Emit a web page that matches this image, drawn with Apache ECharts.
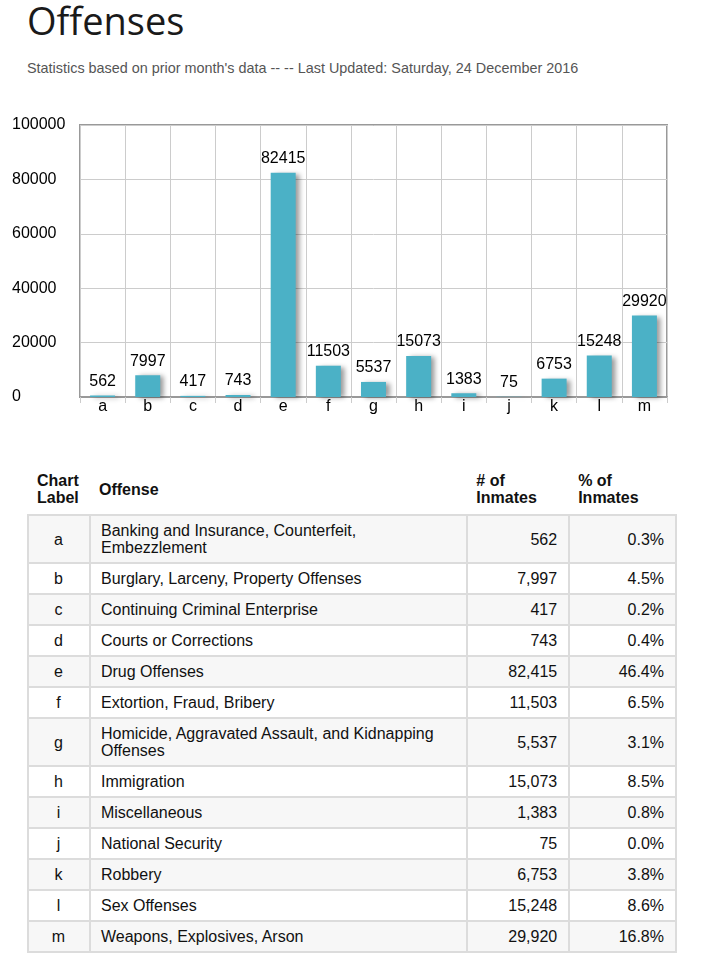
<!DOCTYPE html>
<html>
<head>
<meta charset="utf-8">
<script src="https://cdn.jsdelivr.net/npm/echarts@6/dist/echarts.min.js"></script>
<style>
  html, body { margin: 0; padding: 0; background: #fff; }
  body { width: 701px; height: 964px; position: relative; overflow: hidden; font-family: "Liberation Sans", Arial, sans-serif; }
  #title { position: absolute; left: 27px; top: -6px; font-family: "Open Sans", sans-serif; font-size: 38px; color: #1a1a1a; font-weight: 400; line-height: 52px; margin: 0; }
  #subtitle { position: absolute; left: 27px; top: 59px; font-size: 14.4px; color: #555; line-height: 18px; }
  #chart { position: absolute; left: 0; top: 100px; width: 701px; height: 330px; }
  #tbl { position: absolute; left: 27px; top: 469px; width: 650px; border-collapse: collapse; font-size: 16px; color: #111; }
  #tbl th { font-weight: bold; text-align: left; vertical-align: middle; padding: 3px 9px 8px 9px; line-height: 17px; border: none; }
  #tbl td { border: 2px solid #dcdcdc; padding: 6px 11px 6px 10px; line-height: 17px; }
  #tbl td.off { padding-right: 16px; }
  #tbl tr.odd td { background: #f7f7f7; }
  #tbl td.lbl { text-align: center; }
  #tbl td.num { text-align: right; }
</style>
</head>
<body>
<div id="title">Offenses</div>
<div id="subtitle">Statistics based on prior month's data -- -- Last Updated: Saturday, 24 December 2016</div>
<div id="chart"></div>
<table id="tbl">
  <colgroup><col style="width:62px"><col style="width:379px"><col style="width:102px"><col style="width:107px"></colgroup>
  <thead><tr><th>Chart<br>Label</th><th>Offense</th><th># of<br>Inmates</th><th>% of<br>Inmates</th></tr></thead>
  <tbody id="tbody"></tbody>
</table>
<script>
const labels = ['a','b','c','d','e','f','g','h','i','j','k','l','m'];
const offenses = [
  'Banking and Insurance, Counterfeit, Embezzlement',
  'Burglary, Larceny, Property Offenses',
  'Continuing Criminal Enterprise',
  'Courts or Corrections',
  'Drug Offenses',
  'Extortion, Fraud, Bribery',
  'Homicide, Aggravated Assault, and Kidnapping Offenses',
  'Immigration',
  'Miscellaneous',
  'National Security',
  'Robbery',
  'Sex Offenses',
  'Weapons, Explosives, Arson'
];
const inmates = [562, 7997, 417, 743, 82415, 11503, 5537, 15073, 1383, 75, 6753, 15248, 29920];
const percents = [0.3, 4.5, 0.2, 0.4, 46.4, 6.5, 3.1, 8.5, 0.8, 0.0, 3.8, 8.6, 16.8];
const yTicks = [0, 20000, 40000, 60000, 80000, 100000];

// table
const tbody = document.getElementById('tbody');
labels.forEach((l, i) => {
  const tr = document.createElement('tr');
  if (i % 2 === 0) tr.className = 'odd';
  const cells = [
    [l, 'lbl'],
    [offenses[i], 'off'],
    [inmates[i].toLocaleString('en-US'), 'num'],
    [percents[i].toFixed(1) + '%', 'num']
  ];
  cells.forEach(([t, c]) => {
    const td = document.createElement('td');
    td.textContent = t;
    if (c) td.className = c;
    tr.appendChild(td);
  });
  tbody.appendChild(tr);
});

// chart
const chart = echarts.init(document.getElementById('chart'), null, { renderer: 'canvas' });
const font = '"Liberation Sans", Arial, sans-serif';
chart.setOption({
  animation: false,
  grid: { left: 80, top: 25, width: 587, height: 272, show: true, borderColor: '#999', borderWidth: 2, backgroundColor: 'transparent' },
  xAxis: {
    type: 'category',
    data: labels,
    axisLine: { show: true, lineStyle: { color: '#999', width: 2 } },
    axisTick: { show: true, length: 6, lineStyle: { color: '#ccc' } },
    axisLabel: { color: '#000', fontSize: 16, fontFamily: font, margin: 2 },
    splitLine: { show: true, interval: 0, lineStyle: { color: '#ccc', width: 1 } }
  },
  yAxis: {
    type: 'value',
    min: yTicks[0],
    max: yTicks[yTicks.length - 1],
    interval: 20000,
    axisLine: { show: false },
    axisTick: { show: false },
    axisLabel: { color: '#000', fontSize: 16, fontFamily: font, align: 'left', margin: 68, formatter: v => String(v) },
    splitLine: { show: true, lineStyle: { color: '#ccc', width: 1 } }
  },
  series: [{
    type: 'bar',
    data: inmates,
    barWidth: 25,
    itemStyle: {
      color: '#4bb1c6',
      shadowColor: 'rgba(0,0,0,0.4)',
      shadowBlur: 5,
      shadowOffsetX: 4,
      shadowOffsetY: 1
    },
    label: { show: true, position: 'top', distance: 6, color: '#000', fontSize: 16, fontFamily: font }
  }]
});
</script>
</body>
</html>
